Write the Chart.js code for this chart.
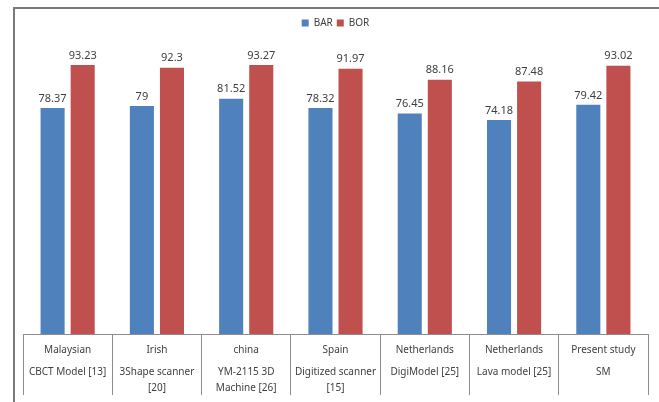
<!DOCTYPE html>
<html>
<head>
<meta charset="utf-8">
<script src="https://cdn.jsdelivr.net/npm/chart.js@4.4.1/dist/chart.umd.min.js"></script>
<style>
  body { margin: 0; background: #fff; }
  #wrap { position: absolute; left: 0; top: 0; width: 659px; height: 402px; }
  #frame { position: absolute; left: 13px; top: 7px; width: 700px; height: 450px; border: 2px solid #7a7a7a; pointer-events: none; }
</style>
</head>
<body>
<div id="wrap"><canvas id="chart" width="659" height="402"></canvas></div>
<div id="frame"></div>
<script>
// Daten aus der Abbildung
const countries = ['Malaysian', 'Irish', 'china', 'Spain', 'Netherlands', 'Netherlands', 'Present study'];
const models = [
    ['CBCT Model [13]'],
    ['3Shape scanner', '[20]'],
    ['YM-2115 3D', 'Machine [26]'],
    ['Digitized scanner', '[15]'],
    ['DigiModel [25]'],
    ['Lava model [25]'],
    ['SM']
];
const barValues = [78.37, 79, 81.52, 78.32, 76.45, 74.18, 79.42];
const borValues = [93.23, 92.3, 93.27, 91.97, 88.16, 87.48, 93.02];

const fontName = '"Noto Sans", "Open Sans", sans-serif';
const textColor = '#404040';

//Werte ueber den Balken
const wertePlugin = {
    id: 'werte',
    afterDatasetsDraw(chart) {
        const c = chart.ctx;
        c.save();
        c.font = '11px ' + fontName;
        c.fillStyle = textColor;
        c.textAlign = 'center';
        c.textBaseline = 'bottom';
        chart.data.datasets.forEach((ds, i) => {
            chart.getDatasetMeta(i).data.forEach((bar, j) => {
                c.fillText(String(ds.data[j]), bar.x, bar.y - 4);
            });
        });
        c.restore();
    }
};

//Tabelle unter der Achse
const tabellePlugin = {
    id: 'tabelle',
    afterDraw(chart) {
        const c = chart.ctx;
        const xs = chart.scales.x;
        const y0 = chart.chartArea.bottom;
        c.save();
        c.font = '10px ' + fontName;
        c.fillStyle = textColor;
        c.textAlign = 'center';
        c.textBaseline = 'middle';
        countries.forEach((land, i) => {
            const x = xs.getPixelForValue(i);
            c.fillText(land, x, y0 + 16);
            models[i].forEach((zeile, k) => {
                c.fillText(zeile, x, y0 + 38 + k * 16);
            });
        });
        c.restore();
    }
};

new Chart(document.getElementById('chart'), {
    type: 'bar',
    data: {
        labels: countries,
        datasets: [
            { label: 'BAR', data: barValues, backgroundColor: '#4f81bd', categoryPercentage: 0.674, barPercentage: 0.8 },
            { label: 'BOR', data: borValues, backgroundColor: '#c0504d', categoryPercentage: 0.674, barPercentage: 0.8 }
        ]
    },
    options: {
        responsive: false,
        animation: false,
        layout: { padding: { left: 23, right: 11, top: 14, bottom: 7 } },
        scales: {
            x: {
                grid: { offset: true, drawOnChartArea: false, tickLength: 61, color: '#8c8c8c' },
                border: { color: '#8c8c8c' },
                ticks: { display: false }
            },
            y: { display: false, min: 0, max: 102.6 }
        },
        plugins: {
            legend: {
                labels: { boxWidth: 7, boxHeight: 7, padding: 4, color: textColor, font: { size: 10, family: fontName } }
            },
            tooltip: { enabled: false }
        }
    },
    plugins: [wertePlugin, tabellePlugin]
});
</script>
</body>
</html>
